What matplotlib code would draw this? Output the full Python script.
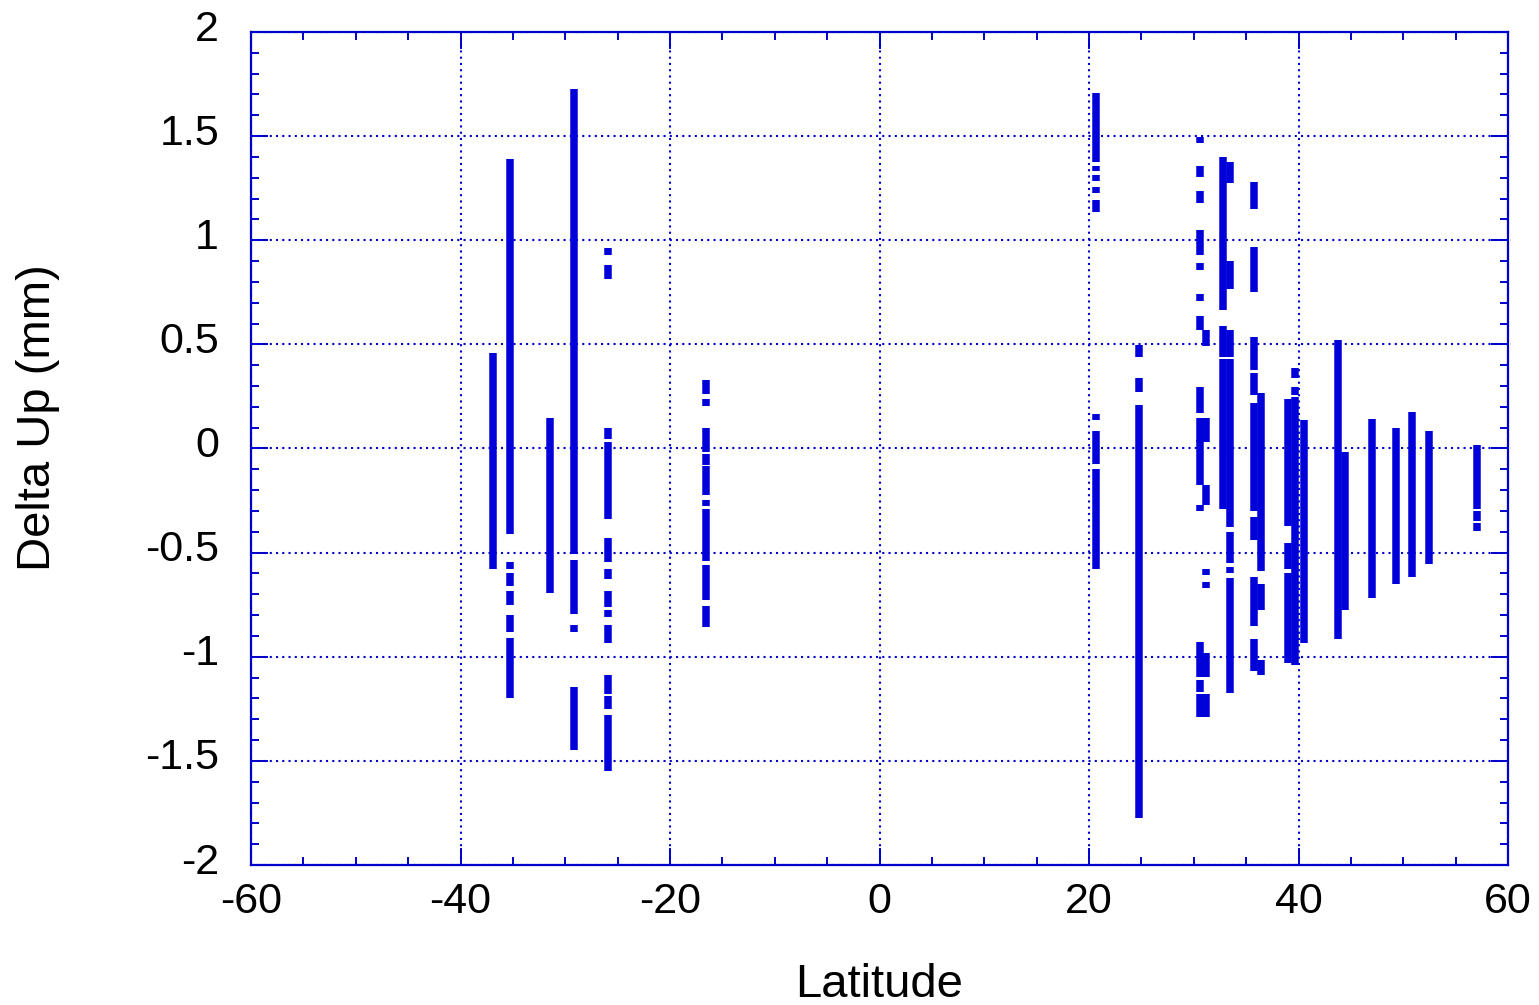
import numpy as np
import matplotlib
matplotlib.use('Agg')
import matplotlib.pyplot as plt
import matplotlib.transforms as mtransforms
from matplotlib.ticker import MultipleLocator

plt.rcParams['font.family'] = ['Liberation Sans', 'DejaVu Sans']

# station latitudes and the Delta Up ranges (mm) covered by each station's points
lat = [-36.9, -35.3, -31.5, -29.2, -25.95, -16.6,
       20.7, 24.8, 30.6, 31.2, 32.8, 33.5, 35.75, 36.45,
       38.97, 39.7, 40.5, 43.77, 44.4, 46.99, 49.28, 50.86, 52.46, 57.04]

ranges = [
    [(-0.58, 0.457)],
    [(-0.41, 1.39), (-0.58, -0.545), (-0.66, -0.60), (-0.75, -0.685), (-0.88, -0.80), (-1.20, -0.91)],
    [(-0.695, 0.146)],
    [(-0.506, 1.725), (-0.796, -0.534), (-0.882, -0.846), (-1.446, -1.146)],
    [(0.929, 0.963), (0.813, 0.882), (0.045, 0.099), (-0.337, 0.030), (-0.545, -0.431),
     (-0.627, -0.58), (-0.76, -0.685), (-0.809, -0.777), (-0.936, -0.846),
     (-1.178, -1.088), (-1.253, -1.189), (-1.55, -1.281)],
    [(0.26, 0.33), (0.202, 0.238), (-0.015, 0.099), (-0.077, -0.026), (-0.223, -0.086),
     (-0.277, -0.249), (-0.539, -0.292), (-0.727, -0.56), (-0.856, -0.755)],
    [(1.377, 1.709), (1.334, 1.358), (1.286, 1.313), (1.229, 1.257), (1.135, 1.191),
     (0.137, 0.166), (-0.074, 0.086), (-0.58, -0.10)],
    [(0.44, 0.497), (0.27, 0.337), (-1.775, 0.209)],
    [(1.465, 1.497), (1.305, 1.358), (1.178, 1.235), (0.929, 1.049), (0.857, 0.889),
     (0.71, 0.74), (0.569, 0.636), (0.169, 0.293), (0.033, 0.145), (-0.175, 0.041),
     (-0.30, -0.27), (-0.98, -0.928), (-1.095, -0.98), (-1.167, -1.11), (-1.29, -1.18)],
    [(0.49, 0.57), (0.033, 0.145), (-0.27, -0.175), (-0.607, -0.58), (-0.67, -0.64),
     (-1.095, -0.98), (-1.29, -1.18)],
    [(0.665, 1.398), (0.44, 0.59), (-0.29, 0.428)],
    [(1.273, 1.374), (0.766, 0.90), (0.44, 0.569), (-0.375, 0.428), (-0.55, -0.40),
     (-0.60, -0.57), (-1.175, -0.62)],
    [(1.148, 1.28), (0.753, 0.969), (0.377, 0.534), (0.257, 0.361), (-0.30, 0.22),
     (-0.44, -0.33), (-0.852, -0.615), (-1.07, -0.917)],
    [(-0.59, 0.265), (-0.775, -0.65), (-1.087, -1.015)],
    [(-0.372, 0.236), (-0.58, -0.456), (-1.029, -0.60)],
    [(0.337, 0.385), (0.257, 0.297), (-1.04, 0.249)],
    [(-0.935, 0.137)],
    [(-0.915, 0.52)],
    [(-0.775, -0.015)],
    [(-0.72, 0.142)],
    [(-0.65, 0.097)],
    [(-0.615, 0.177)],
    [(-0.555, 0.085)],
    [(-0.29, 0.017), (-0.35, -0.30), (-0.395, -0.36)],
]

blue = '#0000cc'

fig = plt.figure(figsize=(15.39, 10.05), dpi=100)
ax = fig.add_axes([0.1631, 0.1393, 0.8168, 0.8289])

for x, segs in zip(lat, ranges):
    lo = [s[0] for s in segs]
    hi = [s[1] for s in segs]
    ax.vlines([x] * len(segs), lo, hi, colors='#0000d8', linewidth=5.4, capstyle='butt', zorder=3)

ax.set_xlim(-60, 60)
ax.set_ylim(-2, 2)
ax.xaxis.set_major_locator(MultipleLocator(20))
ax.xaxis.set_minor_locator(MultipleLocator(5))
ax.yaxis.set_major_locator(MultipleLocator(0.5))
ax.yaxis.set_minor_locator(MultipleLocator(0.1))
ax.yaxis.set_major_formatter(plt.FuncFormatter(lambda v, p: '%g' % v))
ax.xaxis.set_major_formatter(plt.FuncFormatter(lambda v, p: '%g' % v))

ax.grid(True, which='major', color=blue, linestyle=(0, (1, 2)), linewidth=1.5, zorder=1)
for s in ax.spines.values():
    s.set_color(blue)
    s.set_linewidth(1.6)
ax.tick_params(which='both', direction='in', top=True, right=True, color=blue, width=1.4)
ax.tick_params(which='major', length=12, labelsize=31, labelcolor='black')
ax.tick_params(which='minor', length=6)
ax.tick_params(axis='x', which='major', pad=12)
ax.tick_params(axis='y', which='major', pad=23)

# gnuplot puts the y labels a little above their ticks
shift = mtransforms.ScaledTranslation(0, 5 / 72, fig.dpi_scale_trans)
for t in ax.get_yticklabels():
    t.set_va('center_baseline')
    t.set_transform(t.get_transform() + shift)

ax.set_xlabel('Latitude', fontsize=34)
ax.xaxis.set_label_coords(0.5, -0.144)
ax.xaxis.label.set_va('center')
ax.set_ylabel('Delta Up (mm)', fontsize=34)
ax.yaxis.set_label_coords(-0.1695, 0.5366)
ax.yaxis.label.set_va('center')

fig.savefig('out.png', dpi=100)
